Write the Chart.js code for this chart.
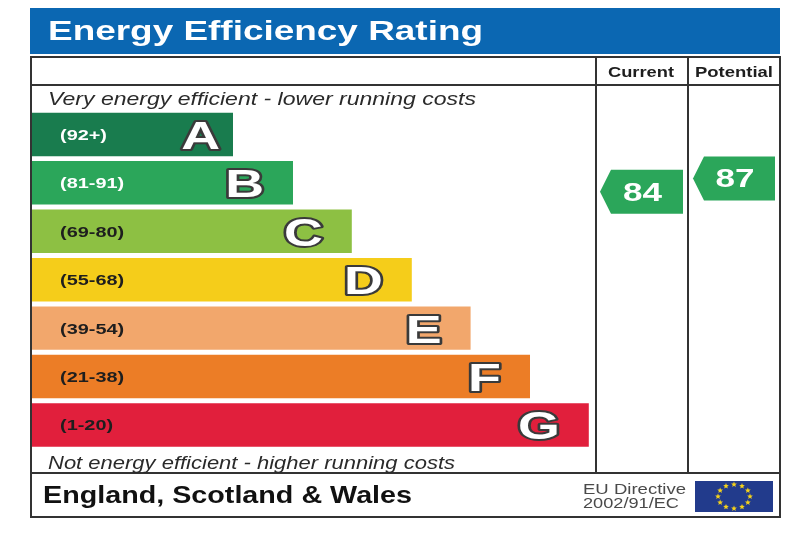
<!DOCTYPE html>
<html>
<head>
<meta charset="utf-8">
<script src="https://cdn.jsdelivr.net/npm/chart.js@4.4.0/dist/chart.umd.min.js"></script>
<style>
  html, body { margin: 0; padding: 0; background: #fff; }
  canvas { display: block; }
</style>
</head>
<body>
<canvas id="myChart" width="800" height="534" style="width:800px;height:534px"></canvas>
<script>
var bands = ['A', 'B', 'C', 'D', 'E', 'F', 'G'];
var rangeLabels = ['(92+)', '(81-91)', '(69-80)', '(55-68)', '(39-54)', '(21-38)', '(1-20)'];
var rangeLow = [92, 81, 69, 55, 39, 21, 1];
var rangeHigh = [100, 91, 80, 68, 54, 38, 20];
// bar lengths as drawn (stepped band lengths)
var barLength = [33.5, 43.5, 53.3, 63.3, 73.1, 83, 92.8];
var bandColors = ['#197c4e', '#2ba65a', '#8dc043', '#f5cd1a', '#f2a76c', '#ec7d26', '#e11f3c'];
var labelColors = ['#ffffff', '#ffffff', '#1e1e1e', '#1e1e1e', '#1e1e1e', '#1e1e1e', '#1e1e1e'];
var currentRating = 84;
var potentialRating = 87;

var FONT = '"Liberation Sans", Arial, sans-serif';

function measure(ctx, s, font) {
  ctx.save();
  ctx.font = font;
  var w = ctx.measureText(s).width;
  ctx.restore();
  return w;
}

// draws text stretched to a given width (the original graphic is wide)
function txt(ctx, s, x, y, font, color, width, align) {
  ctx.save();
  ctx.font = font;
  ctx.fillStyle = color;
  ctx.textBaseline = 'alphabetic';
  var w = ctx.measureText(s).width;
  var sx = width ? width / w : 1;
  ctx.translate(x, y);
  ctx.scale(sx, 1);
  ctx.textAlign = align || 'left';
  ctx.fillText(s, 0, 0);
  ctx.restore();
}

function bandOf(r) {
  for (var i = 0; i < rangeLow.length; i++) {
    if (r >= rangeLow[i]) return i;
  }
  return rangeLow.length - 1;
}

function ratingY(chart, r) {
  var ys = chart.scales.y;
  var i = bandOf(r);
  var slot = ys.getPixelForValue(1) - ys.getPixelForValue(0);
  var top = ys.getPixelForValue(i) - slot / 2;
  return top + slot * (rangeHigh[i] - r + 0.5) / (rangeHigh[i] - rangeLow[i] + 1);
}

function arrow(ctx, tipX, rightX, yc, h, color, value) {
  ctx.save();
  ctx.fillStyle = color;
  ctx.beginPath();
  ctx.moveTo(tipX, yc);
  ctx.lineTo(tipX + 11, yc - h / 2);
  ctx.lineTo(rightX, yc - h / 2);
  ctx.lineTo(rightX, yc + h / 2);
  ctx.lineTo(tipX + 11, yc + h / 2);
  ctx.closePath();
  ctx.fill();
  ctx.restore();
  txt(ctx, String(value), (tipX + rightX) / 2 + 1, yc + 9, 'bold 26px ' + FONT, '#ffffff', 39, 'center');
}

function star(ctx, cx, cy, r) {
  ctx.beginPath();
  for (var k = 0; k < 10; k++) {
    var a = -Math.PI / 2 + k * Math.PI / 5;
    var rr = k % 2 ? r * 0.45 : r;
    ctx.lineTo(cx + rr * Math.cos(a), cy + rr * Math.sin(a));
  }
  ctx.closePath();
  ctx.fill();
}

var epcPlugin = {
  id: 'epc',
  beforeDraw: function(chart) {
    var ctx = chart.ctx;
    ctx.save();
    ctx.fillStyle = '#ffffff';
    ctx.fillRect(0, 0, chart.width, chart.height);
    // title band
    ctx.fillStyle = '#0b67b2';
    ctx.fillRect(30, 8, 750, 46);
    ctx.restore();
    txt(ctx, 'Energy Efficiency Rating', 48, 40, 'bold 27px ' + FONT, '#ffffff', 435);
  },
  afterDatasetsDraw: function(chart) {
    var ctx = chart.ctx;
    var meta = chart.getDatasetMeta(0);

    // frame and grid lines
    ctx.save();
    ctx.strokeStyle = '#333333';
    ctx.lineWidth = 2;
    ctx.strokeRect(31, 57, 749, 460);
    ctx.beginPath();
    ctx.moveTo(31, 85); ctx.lineTo(780, 85);
    ctx.moveTo(31, 473); ctx.lineTo(780, 473);
    ctx.moveTo(596, 57); ctx.lineTo(596, 473);
    ctx.moveTo(688, 57); ctx.lineTo(688, 473);
    ctx.stroke();
    ctx.restore();

    txt(ctx, 'Current', 641, 76.5, 'bold 14px ' + FONT, '#1e1e1e', 66, 'center');
    txt(ctx, 'Potential', 734, 76.5, 'bold 14px ' + FONT, '#1e1e1e', 78, 'center');
    txt(ctx, 'Very energy efficient - lower running costs', 48, 105, 'italic 18px ' + FONT, '#2a2a2a', 428);
    txt(ctx, 'Not energy efficient - higher running costs', 48, 468.5, 'italic 18px ' + FONT, '#2a2a2a', 407);

    // band labels and letters
    var lblFont = 'bold 15.5px ' + FONT;
    var lblScale = 47 / measure(ctx, rangeLabels[0], lblFont);
    meta.data.forEach(function(bar, i) {
      var yc = bar.y;
      txt(ctx, rangeLabels[i], 60, yc + 5.5, lblFont, labelColors[i],
          lblScale * measure(ctx, rangeLabels[i], lblFont));

      var right = bar.x - (i === 0 ? 13 : 29);
      ctx.save();
      ctx.translate(right, yc + 14.5);
      ctx.scale(1.38, 1);
      ctx.font = 'bold 39px ' + FONT;
      ctx.textAlign = 'right';
      ctx.textBaseline = 'alphabetic';
      ctx.lineJoin = 'round';
      ctx.lineWidth = 4;
      ctx.strokeStyle = '#3a3a3a';
      ctx.strokeText(bands[i], 0, 0);
      ctx.fillStyle = '#ffffff';
      ctx.fillText(bands[i], 0, 0);
      ctx.restore();
    });

    // current / potential arrows
    arrow(ctx, 600, 683, ratingY(chart, currentRating), 44, bandColors[bandOf(currentRating)], currentRating);
    arrow(ctx, 693, 775, ratingY(chart, potentialRating), 44, bandColors[bandOf(potentialRating)], potentialRating);

    // footer
    txt(ctx, 'England, Scotland & Wales', 43, 502.5, 'bold 23px ' + FONT, '#111111', 369);
    txt(ctx, 'EU Directive', 583, 494, '15px ' + FONT, '#4a4a4a', 103);
    txt(ctx, '2002/91/EC', 583, 508, '15px ' + FONT, '#4a4a4a', 96);
    ctx.save();
    ctx.fillStyle = '#223b8c';
    ctx.fillRect(695, 481, 78, 31);
    ctx.fillStyle = '#f5d21a';
    for (var k = 0; k < 12; k++) {
      var a = k * Math.PI / 6;
      star(ctx, 734 + 16 * Math.cos(a), 496.5 + 12 * Math.sin(a), 3);
    }
    ctx.restore();
  }
};

var ctx = document.getElementById('myChart').getContext('2d');

var myChart = new Chart(ctx, {
  type: 'bar',
  data: {
    labels: bands,
    datasets: [{
      data: barLength,
      backgroundColor: bandColors,
      borderWidth: 0,
      barPercentage: 0.898,
      categoryPercentage: 1
    }]
  },
  options: {
    indexAxis: 'y',
    responsive: false,
    animation: false,
    layout: { padding: { left: 32, right: 168, top: 110.2, bottom: 84.8 } },
    scales: {
      x: { display: false, min: 0, max: 100 },
      y: { display: false }
    },
    plugins: {
      legend: { display: false },
      tooltip: { enabled: false }
    }
  },
  plugins: [epcPlugin]
});
</script>
</body>
</html>
